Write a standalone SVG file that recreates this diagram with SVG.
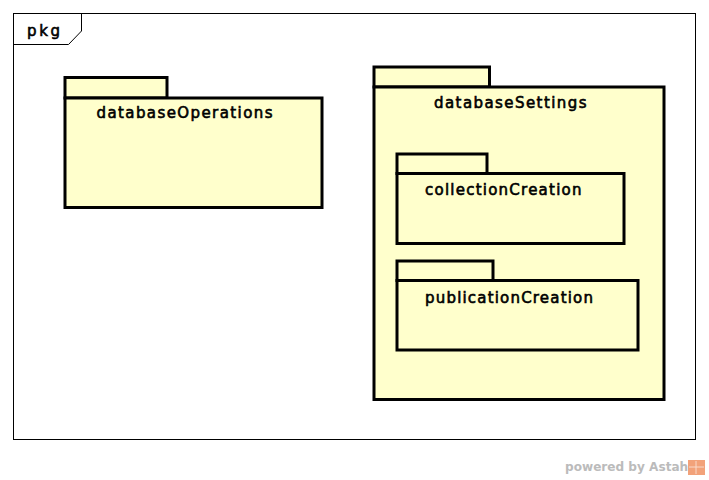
<svg xmlns="http://www.w3.org/2000/svg" width="709" height="480" viewBox="0 0 709 480">
<style>
.pk{fill:#FFFFCC;stroke:#000;stroke-width:3}
.lbl{font-family:"DejaVu Sans",Verdana,sans-serif;font-size:15px;fill:#000;stroke:#000;stroke-width:0.6}
.frame{fill:none;stroke:#000;stroke-width:1}
</style>
<rect x="0" y="0" width="709" height="480" fill="#fff"/>
<g id="frame">
<rect class="frame" x="13.5" y="13.5" width="682" height="426"/>
<path class="frame" d="M13.5,44.5 H68.5 L81.5,31 V13.5"/>
<text class="lbl" x="27" y="36" textLength="33" lengthAdjust="spacing">pkg</text>
</g>
<g id="databaseOperations">
<rect class="pk" x="65" y="77.5" width="102" height="20.5"/>
<rect class="pk" x="65" y="98" width="257" height="109.5"/>
<text class="lbl" x="96.5" y="118" textLength="176" lengthAdjust="spacing">databaseOperations</text>
</g>
<g id="databaseSettings">
<rect class="pk" x="374" y="67" width="115.5" height="20"/>
<rect class="pk" x="374" y="87" width="290" height="312.5"/>
<text class="lbl" x="434" y="108" textLength="152.5" lengthAdjust="spacing">databaseSettings</text>
</g>
<g id="collectionCreation">
<rect class="pk" x="397" y="154" width="90" height="19.5"/>
<rect class="pk" x="397" y="173.5" width="227" height="70"/>
<text class="lbl" x="425" y="195" textLength="156.5" lengthAdjust="spacing">collectionCreation</text>
</g>
<g id="publicationCreation">
<rect class="pk" x="397" y="261" width="96" height="19.5"/>
<rect class="pk" x="397" y="280.5" width="241" height="69.5"/>
<text class="lbl" x="425" y="302.5" textLength="168" lengthAdjust="spacing">publicationCreation</text>
</g>
<g id="connectors"></g>
<g id="watermark">
<text x="565" y="471" font-family="DejaVu Sans,Verdana,sans-serif" font-weight="bold" font-size="12.1px" fill="#BBBBBB">powered by Astah</text>
<rect x="688" y="460" width="17" height="15" fill="#F2A27A"/>
<path d="M689,467 H704 M696,461 V474" stroke="#FFFFFF" stroke-width="1" opacity="0.6"/>
</g>
</svg>
